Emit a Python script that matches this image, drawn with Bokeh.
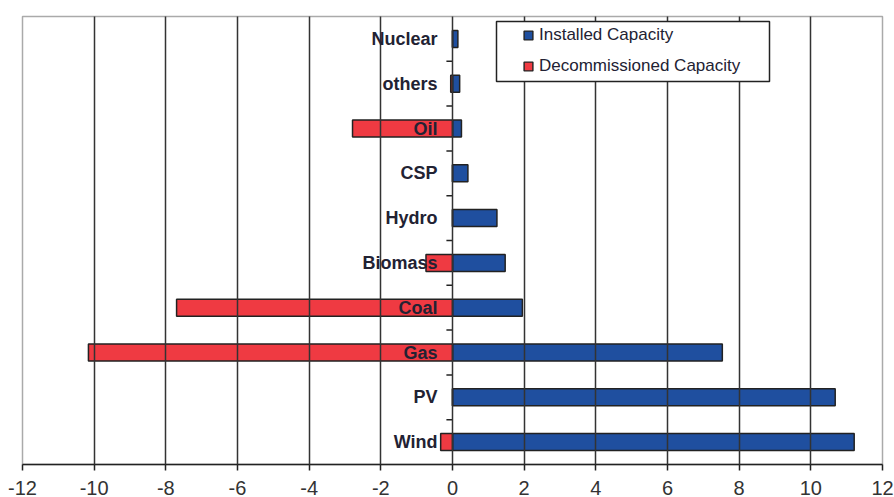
from bokeh.plotting import figure
from bokeh.models import Range1d, FixedTicker, Legend, LegendItem, ColumnDataSource, BoxAnnotation
from bokeh.core.properties import value
from bokeh.embed import file_html
from bokeh.resources import INLINE

# ---- data ----
categories = ["Nuclear", "others", "Oil", "CSP", "Hydro", "Biomass", "Coal", "Gas", "PV", "Wind"]
installed = [0.15, 0.2, 0.25, 0.43, 1.24, 1.47, 1.95, 7.53, 10.68, 11.21]
decommissioned = [0.0, -0.05, -2.79, 0.0, 0.0, -0.74, -7.70, -10.16, 0.0, -0.33]
x_ticks = [-12, -10, -8, -6, -4, -2, 0, 2, 4, 6, 8, 10, 12]
x_tick_labels = ["-12", "-10", "-8", "-6", "-4", "-2", "0", "2", "4", "6", "8", "10", "12"]
series_names = ["Installed Capacity", "Decommissioned Capacity"]

BLUE = "#1f4f9f"
RED = "#ef3a42"
DARK = "#222222"
FONT = "Liberation Sans"

n = len(categories)
ypos = [n - i - 0.5 for i in range(n)]
boundaries = list(range(1, n))

src = ColumnDataSource(dict(cat=categories, y=ypos, inst=installed, dec=decommissioned,
                            zero=[0] * n))

p = figure(width=894, height=497, x_range=Range1d(-12, 12), y_range=Range1d(0, n),
           output_backend="svg", toolbar_location=None, y_axis_location=None,
           min_border_left=22, min_border_right=12, min_border_top=16, min_border_bottom=33)

p.outline_line_color = "#aaaaaa"
p.outline_line_width = 1.5

# axis
ax = p.xaxis[0]
ax.ticker = FixedTicker(ticks=x_ticks)
ax.major_label_overrides = dict(zip(x_ticks, x_tick_labels))
ax.axis_line_color = DARK
ax.axis_line_width = 1.5
ax.major_tick_line_color = DARK
ax.major_tick_line_width = 1.5
ax.major_tick_out = 6
ax.major_tick_in = 0
ax.minor_tick_line_color = None
ax.major_label_standoff = 10
ax.major_label_text_font = FONT
ax.major_label_text_font_size = "20px"
ax.major_label_text_color = "#333333"

# grid
p.ygrid.visible = False
p.xgrid.ticker = FixedTicker(ticks=x_ticks[1:-1])
p.xgrid.grid_line_color = "#333333"
p.xgrid.grid_line_width = 1.5
p.xgrid.level = "guide"

# bars
r_inst = p.hbar(y="y", left=0, right="inst", height=0.38, source=src,
                fill_color=BLUE, line_color=DARK, line_width=1.5)
r_dec = p.hbar(y="y", left="dec", right=0, height=0.38, source=src,
               fill_color=RED, line_color=DARK, line_width=1.5)

# category ticks on zero line
tick_len = 0.17
p.segment(x0=[-tick_len] * len(boundaries), x1=[0] * len(boundaries),
          y0=boundaries, y1=boundaries, line_color=DARK, line_width=1.5)

# category labels
p.text(x="zero", y="y", text="cat", source=src, x_offset=-15,
       text_align="right", text_baseline="middle",
       text_font=value(FONT), text_font_style="bold", text_font_size="18px",
       text_color="#222233", level="overlay")

# legend frame (screen units, relative to plot frame)
legend_box = BoxAnnotation(left=474, right=747, top=443, bottom=383,
                           left_units="screen", right_units="screen",
                           top_units="screen", bottom_units="screen",
                           fill_color="white", fill_alpha=1.0,
                           line_color=DARK, line_alpha=1.0, line_width=1.5)
p.add_layout(legend_box)

# legend proxies
nan = float("nan")
lg_inst = p.scatter(x=[nan], y=[nan], marker="square", fill_color=BLUE,
                    line_color=DARK, line_width=1.4)
lg_dec = p.scatter(x=[nan], y=[nan], marker="square", fill_color=RED,
                   line_color=DARK, line_width=1.4)

legend = Legend(items=[LegendItem(label=series_names[0], renderers=[lg_inst]),
                       LegendItem(label=series_names[1], renderers=[lg_dec])],
                location=(495, 387))
legend.padding = 0
legend.spacing = 9
legend.margin = 0
legend.glyph_width = 22
legend.glyph_height = 22
legend.label_height = 22
legend.label_standoff = 0
legend.label_text_font = FONT
legend.label_text_font_size = "17px"
legend.label_text_color = "#222233"
legend.border_line_color = None
legend.background_fill_alpha = 0.0
p.add_layout(legend)

open("out.html", "w").write(file_html(p, INLINE))
